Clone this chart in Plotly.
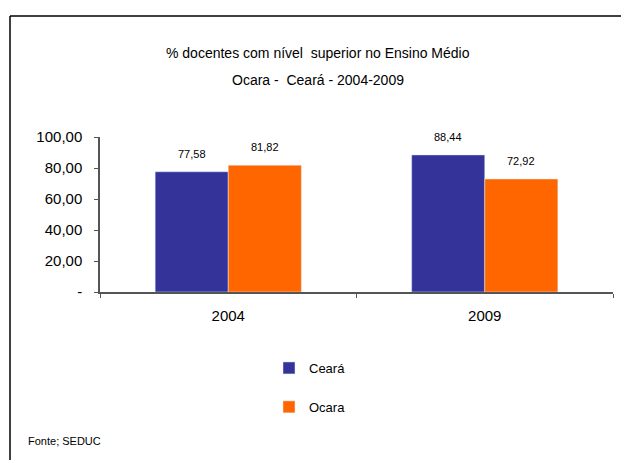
import plotly.graph_objects as go

years = ["2004", "2009"]
ceara = [77.58, 88.44]
ocara = [81.82, 72.92]
ytick_vals = [0, 20, 40, 60, 80, 100]
ytick_text = ["-", "20,00", "40,00", "60,00", "80,00", "100,00"]
title1 = "% docentes com nível  superior no Ensino Médio"
title2 = "Ocara -  Ceará - 2004-2009"
source = "Fonte; SEDUC"

OFF = 8  # page body margin
W, H = 629 - OFF, 460 - OFF
L, R, T, B = 100 - OFF, 16, 137 - OFF, 168
pw, ph = W - L - R, H - T - B

def px(x):
    return (x - OFF - L) / pw

def py(y):
    return (H - B - (y - OFF)) / ph

def fmt(v):
    return f"{v:.2f}".replace(".", ",")

FONT = "Liberation Sans"
LBL = dict(family=FONT, size=11, color="#000")
fig = go.Figure()
fig.add_trace(go.Bar(name="Ceará", x=years, y=ceara, marker_color="#333399",
                     legendgroup="a"))
fig.add_trace(go.Bar(name="Ocara", x=years, y=ocara, marker_color="#FF6600",
                     legendgroup="b"))

gw = 0.57
half = pw / len(years) * gw / 4
anns = []
for i in range(len(years)):
    for vals, sh in ((ceara, -half), (ocara, half)):
        anns.append(dict(x=i, y=vals[i], xref="x", yref="y", text=fmt(vals[i]),
                         showarrow=False, xshift=sh, yshift=18,
                         xanchor="center", yanchor="middle", font=LBL))
anns.append(dict(x=px(318), y=py(53), xref="paper", yref="paper", text=title1,
                 showarrow=False, xanchor="center", yanchor="middle",
                 font=dict(family=FONT, size=14, color="#000")))
anns.append(dict(x=px(318), y=py(80), xref="paper", yref="paper", text=title2,
                 showarrow=False, xanchor="center", yanchor="middle",
                 font=dict(family=FONT, size=14, color="#000")))
anns.append(dict(x=px(26), y=py(441), xref="paper", yref="paper", text=source,
                 showarrow=False, xanchor="left", yanchor="middle",
                 font=dict(family=FONT, size=11, color="#000")))

shapes = [dict(type="line", xref="paper", yref="paper",
               x0=px(10), y0=py(480), x1=px(10), y1=py(16),
               line=dict(color="#000", width=1.5)),
          dict(type="line", xref="paper", yref="paper",
               x0=px(10), y0=py(16), x1=px(660), y1=py(16),
               line=dict(color="#000", width=1.5))]

fig.update_layout(
    width=W, height=H, barmode="group", bargap=1 - gw, bargroupgap=0,
    margin=dict(l=L, r=R, t=T, b=B),
    paper_bgcolor="white", plot_bgcolor="white",
    font=dict(family=FONT, color="#000"),
    annotations=anns, shapes=shapes,
    legend=dict(x=px(269), y=py(353), xanchor="left", yanchor="top",
                tracegroupgap=19, font=dict(family=FONT, size=13),
                bgcolor="rgba(0,0,0,0)"),
    xaxis=dict(type="category", categoryorder="array", categoryarray=years,
               range=[-0.5, len(years) - 0.5],
               showline=True, linecolor="#555", linewidth=1.5,
               ticks="outside", tickson="boundaries", ticklen=4,
               ticklabelstandoff=9,
               tickcolor="#555", tickfont=dict(size=15), showgrid=False),
    yaxis=dict(range=[0, 100], tickvals=ytick_vals, ticktext=ytick_text,
               showline=True, linecolor="#555", linewidth=1.5, ticks="outside",
               ticklen=4, tickcolor="#555", tickfont=dict(size=15),
               ticklabelstandoff=9,
               showgrid=False, zeroline=False),
)
fig.write_html("out.html")
